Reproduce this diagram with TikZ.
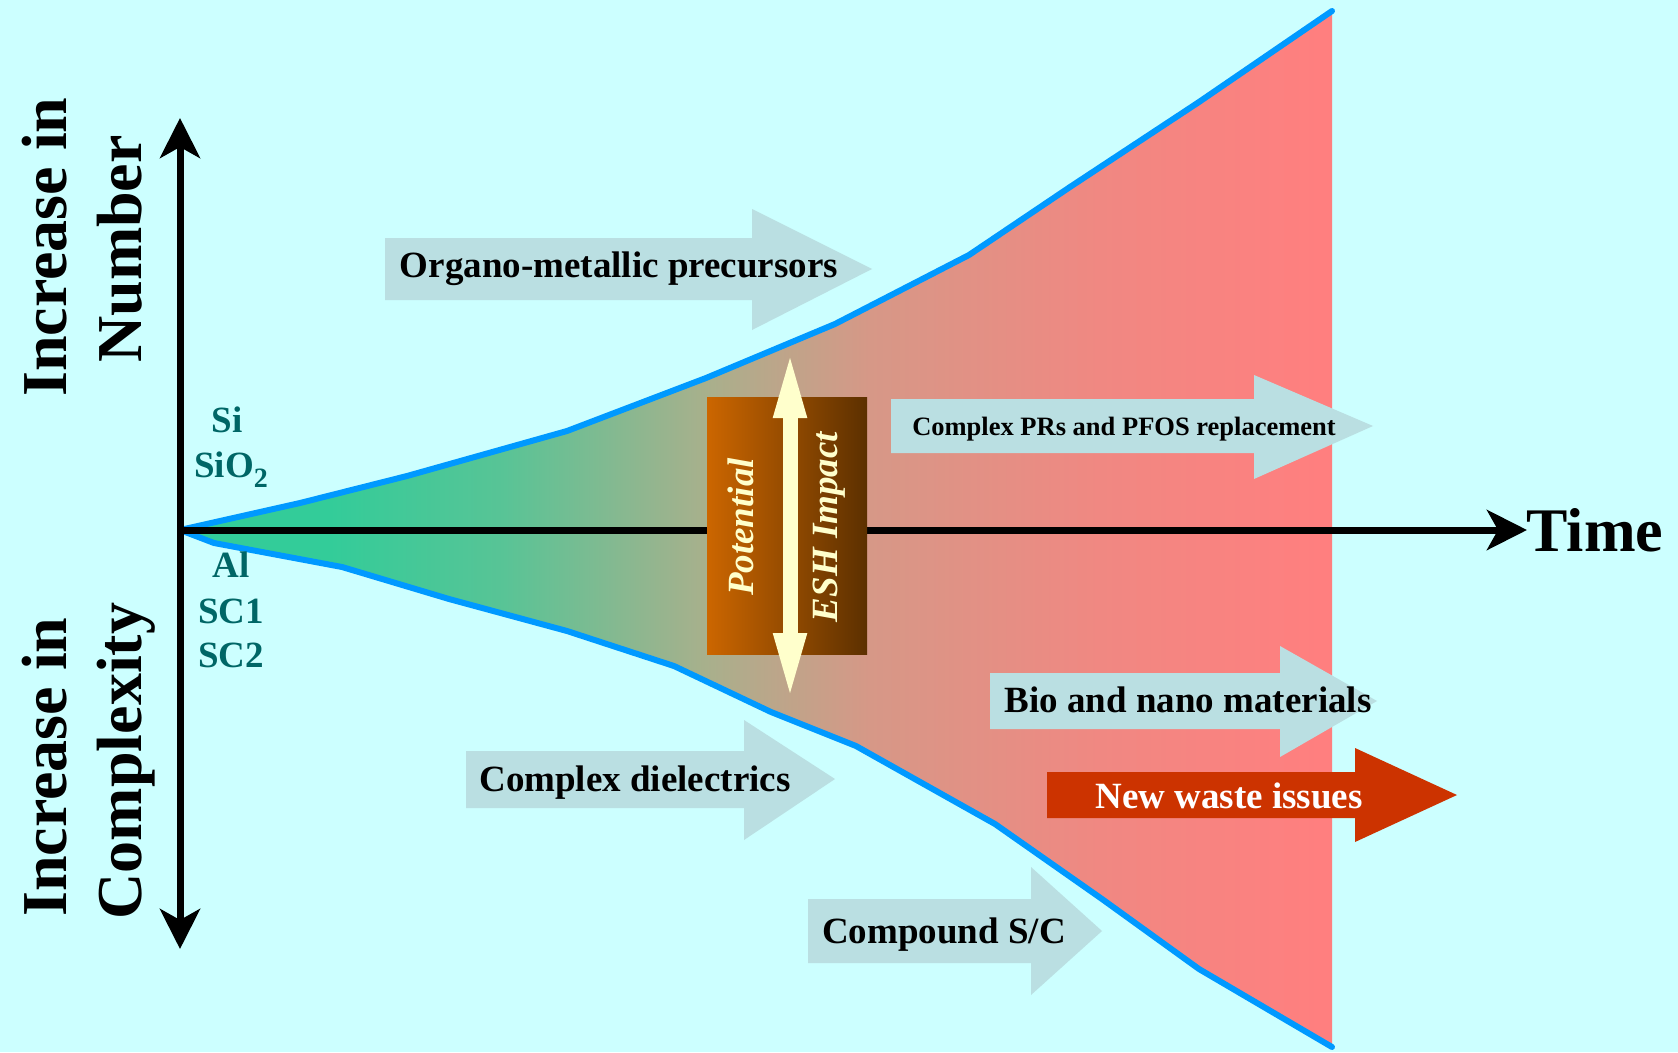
\documentclass[tikz,border=0pt]{standalone}
\usepackage{fontspec}
\setmainfont{Liberation Serif}
\usetikzlibrary{arrows.meta}
\definecolor{bgc}{RGB}{204,255,255}
\definecolor{fgreen}{RGB}{51,204,153}
\definecolor{fpink}{RGB}{255,127,127}
\definecolor{fblue}{RGB}{0,153,255}
\definecolor{arrc}{RGB}{186,223,226}
\definecolor{tealc}{RGB}{0,102,102}
\definecolor{wred}{RGB}{204,51,0}
\definecolor{boxl}{RGB}{204,102,0}
\definecolor{boxr}{RGB}{92,48,0}
\definecolor{cream}{RGB}{255,255,204}
\definecolor{fmid1}{RGB}{88,196,150}
\definecolor{fmid2}{RGB}{168,176,140}
\definecolor{fmid3}{RGB}{214,152,135}
\definecolor{fmid4}{RGB}{240,136,130}
\pgfdeclarehorizontalshading{funnelshade}{100bp}{color(0bp)=(fgreen); color(31.5bp)=(fgreen); color(39bp)=(fmid1); color(47.8bp)=(fmid2); color(54.9bp)=(fmid3); color(64.9bp)=(fmid4); color(74.5bp)=(fpink); color(100bp)=(fpink)}
\begin{document}
\begin{tikzpicture}[x=1pt,y=-1pt,
  lbl/.style={font=\fontsize{37}{40}\selectfont\bfseries, anchor=base, inner sep=0pt},
  small/.style={font=\fontsize{26.5}{30}\selectfont\bfseries, anchor=base, inner sep=0pt},
  side/.style={font=\fontsize{64}{70}\selectfont\bfseries, anchor=base, inner sep=0pt, rotate=90},
  vert/.style={font=\fontsize{37}{40}\selectfont\bfseries\itshape, text=cream, anchor=base, inner sep=0pt, rotate=90},
  mat/.style={lbl, text=tealc},
  bigarrfill/.style={fill=arrc},
  axis/.style={line width=7pt, black},
  axtip/.tip={Stealth[length=40pt,width=40pt,inset=11pt]},
  dtip/.tip={Triangle[length=70pt,width=29pt]},
  edge/.style={draw=fblue, line width=6pt, line join=round, line cap=round}]
\fill[bgc] (0,0) rectangle (1678,1052);
\useasboundingbox (0,0) rectangle (1678,1052);
% funnel
\shade[shading=funnelshade]
 (180,530) -- (300,503) -- (407,476) -- (567,431) -- (706,378) -- (835,324) -- (969,255) -- (1070,187) -- (1199,102) -- (1332,11)
 -- (1332,1047) -- (1199,969) -- (1102,899) -- (995,824) -- (856,746) -- (771,712) -- (674,666) -- (567,631) -- (449,599) -- (342,567) -- (214,543) -- cycle;
\path[edge] (180,530) -- (300,503) -- (407,476) -- (567,431) -- (706,378) -- (835,324) -- (969,255) -- (1070,187) -- (1199,102) -- (1332,11);
\path[edge] (180,530) -- (214,543) -- (342,567) -- (449,599) -- (567,631) -- (674,666) -- (771,712) -- (856,746) -- (995,824) -- (1102,899) -- (1199,969) -- (1332,1047);
% axes
\coordinate (O) at (180,530);
\coordinate (vtop) at (180,118);
\coordinate (vbot) at (180,949);
\coordinate (htip) at (1527,530);
\draw[axis, axtip-axtip] (vbot) -- (vtop);
\draw[axis, -axtip] (O) -- (htip);
\node[font=\fontsize{62}{66}\selectfont\bfseries, anchor=base, inner sep=0pt] (time) at (1595,551) {Time};
% side labels
\node[side] (incnum1) at (66,247) {Increase in};
\node[side] (incnum2) at (141,249) {Number};
\node[side] (inccom1) at (66,767) {Increase in};
\node[side] (inccom2) at (141,761) {Complexity};
% materials
\node[mat] (si) at (227,432) {Si};
\node[mat] (sio) at (231,477) {SiO\raisebox{-10pt}{\fontsize{28}{28}\selectfont 2}};
\node[mat] (al) at (231,577) {Al};
\node[mat] (sc1) at (231,623) {SC1};
\node[mat] (sc2) at (231,667) {SC2};
% light arrows
\fill[bigarrfill] (385,238) -- (752,238) -- (752,209) -- (872,269) -- (752,330) -- (752,300) -- (385,300) -- cycle;
\node[lbl] (organo) at (619,277) {Organo-metallic precursors};
\fill[bigarrfill] (891,399) -- (1254,399) -- (1254,375) -- (1373,426) -- (1254,479) -- (1254,453) -- (891,453) -- cycle;
\node[small] (pfos) at (1124,435) {Complex PRs and PFOS replacement};
\fill[bigarrfill] (466,751) -- (744,751) -- (744,720) -- (835,779) -- (744,840) -- (744,808) -- (466,808) -- cycle;
\node[lbl] (diel) at (635,791) {Complex dielectrics};
\fill[bigarrfill] (808,899) -- (1031,899) -- (1031,867) -- (1102,931) -- (1031,995) -- (1031,963) -- (808,963) -- cycle;
\node[lbl] (comp) at (944,943) {Compound S/C};
\fill[bigarrfill] (990,673) -- (1280,673) -- (1280,646) -- (1377,701) -- (1280,757) -- (1280,729) -- (990,729) -- cycle;
\node[lbl] (bio) at (1188,712) {Bio and nano materials};
\fill[wred] (1047,772) -- (1355,772) -- (1355,748) -- (1457,795) -- (1355,842) -- (1355,818) -- (1047,818) -- cycle;
\node[lbl, text=white] (waste) at (1229,808) {New waste issues};
% potential box
\shade[left color=boxl, right color=boxr] (707,397) rectangle (867,654);
\node[vert] (pot) at (753,527) {Potential};
\node[vert] (esh) at (837,527) {ESH Impact};
\coordinate (dtop) at (790,348);
\coordinate (dbot) at (790,703);
\draw[cream, line width=15pt, dtip-dtip] (dbot) -- (dtop);
\end{tikzpicture}
\end{document}
